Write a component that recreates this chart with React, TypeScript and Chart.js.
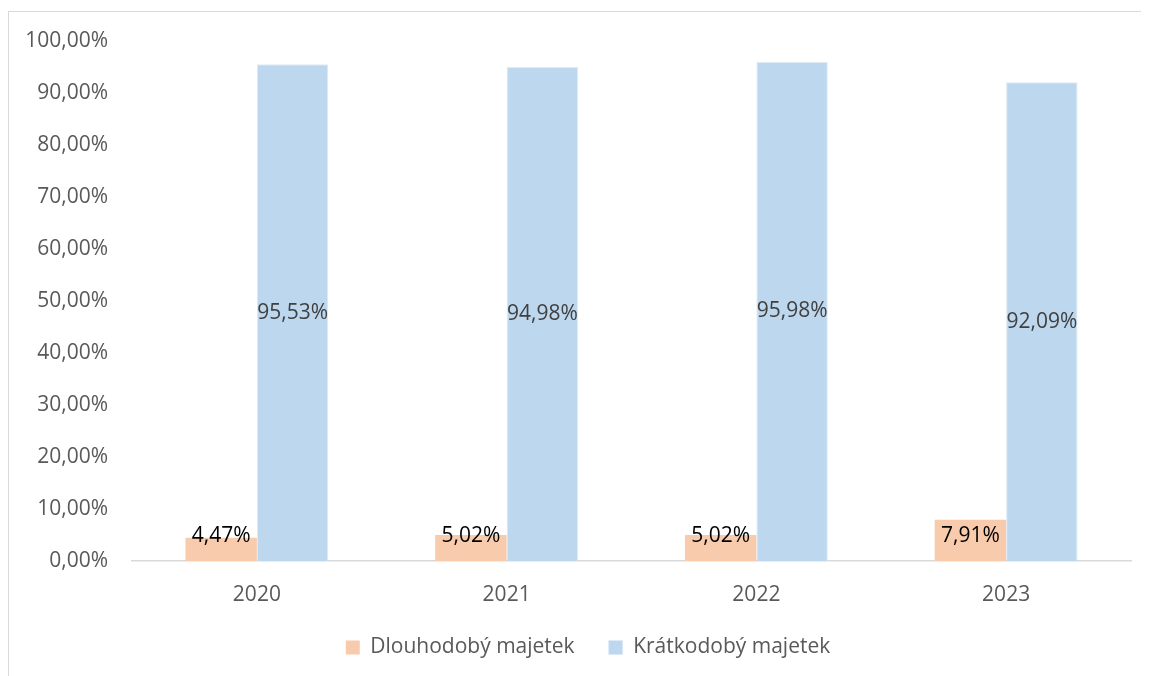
import React, { useEffect, useRef } from "react";
import { Chart, registerables } from "chart.js";

Chart.register(...registerables);

const categories = ["2020", "2021", "2022", "2023"];
const longTerm = [4.47, 5.02, 5.02, 7.91];
const shortTerm = [95.53, 94.98, 95.98, 92.09];
const seriesNames = ["Dlouhodobý majetek", "Krátkodobý majetek"];
const yTicks = [0, 10, 20, 30, 40, 50, 60, 70, 80, 90, 100];

const FONT = "'Open Sans', 'Noto Sans', sans-serif";

const fmt = (v: number) => v.toFixed(2).replace(".", ",") + "%";

const labelPlugin = {
  id: "barLabels",
  afterLayout(chart: any) {
    // centre the legend on the whole canvas (frame), like the original
    const lg = chart.legend;
    if (lg) {
      const shift = (chart.width - lg.right - lg.left) / 2;
      lg.left += shift;
      lg.right += shift;
    }
  },
  afterDatasetsDraw(chart: any) {
    const { ctx } = chart;
    const y0 = chart.scales.y.getPixelForValue(0);
    ctx.save();
    ctx.font = `21px ${FONT}`;
    ctx.textAlign = "center";
    ctx.textBaseline = "middle";
    chart.data.datasets.forEach((ds: any, di: number) => {
      const meta = chart.getDatasetMeta(di);
      meta.data.forEach((bar: any, i: number) => {
        const v = ds.data[i];
        let y;
        if (di === 0) {
          ctx.fillStyle = "#000000";
          y = y0 - 25;
        } else {
          ctx.fillStyle = "#404040";
          y = (bar.y + y0) / 2;
        }
        ctx.fillText(fmt(v), bar.x, y);
      });
    });
    ctx.restore();
  },
};

export default function App() {
  const ref = useRef<HTMLCanvasElement>(null);
  useEffect(() => {
    if (!ref.current) return;
    const chart = new Chart(ref.current, {
      type: "bar",
      data: {
        labels: categories,
        datasets: [
          {
            label: seriesNames[0],
            data: longTerm,
            backgroundColor: "#F8CBAD",
            categoryPercentage: 0.572,
            barPercentage: 1,
          },
          {
            label: seriesNames[1],
            data: shortTerm,
            backgroundColor: "#BDD7EE",
            borderColor: "#DDEBF7",
            borderWidth: { top: 1, left: 1, right: 1, bottom: 0 },
            categoryPercentage: 0.572,
            barPercentage: 1,
          },
        ],
      },
      options: {
        responsive: false,
        animation: false,
        layout: { padding: { top: 29, right: 36, left: 0, bottom: 42 } },
        plugins: {
          tooltip: { enabled: false },
          legend: {
            position: "bottom",
            labels: {
              boxWidth: 14,
              boxHeight: 14,
              padding: 34,
              color: "#595959",
              font: { family: FONT, size: 21 },
            },
          },
        },
        scales: {
          x: {
            grid: { display: false, drawTicks: false },
            border: { display: true, color: "#d9d9d9", width: 1.5 },
            ticks: { color: "#595959", font: { family: FONT, size: 21 }, padding: 21 },
            afterFit: (s: any) => { s.height = 42; },
          },
          y: {
            min: 0,
            max: 100,
            afterBuildTicks: (s: any) => { s.ticks = yTicks.map((v) => ({ value: v })); },
            grid: { display: false, drawTicks: false },
            border: { display: false },
            ticks: {
              color: "#595959",
              font: { family: FONT, size: 21 },
              padding: 24,
              callback: (v: any) => fmt(Number(v)),
            },
            afterFit: (s: any) => {
              s.width = 123;
              s.paddingTop = 0;
              s.paddingBottom = 0;
            },
          },
        },
      },
      plugins: [labelPlugin],
    });
    return () => chart.destroy();
  }, []);
  return (
    <div style={{ paddingTop: 3, width: 1141, height: 665, overflow: "hidden" }}>
      <div style={{ width: 1160, height: 700, border: "1px solid #d9d9d9", boxSizing: "border-box" }}>
        <canvas ref={ref} width={1158} height={698} style={{ display: "block" }} />
      </div>
    </div>
  );
}
